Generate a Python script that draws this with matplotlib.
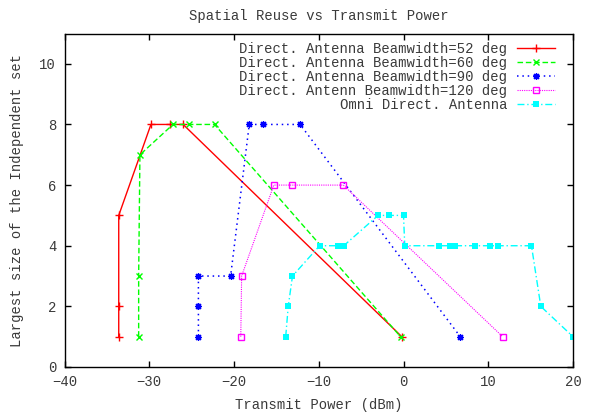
import matplotlib
matplotlib.use("Agg")
import matplotlib.pyplot as plt

# values (gnuplot style)
bw52_x = [-33.6, -33.6, -33.6, -29.8, -27.5, -26.0, -0.2]
bw52_y = [1, 2, 5, 8, 8, 8, 1]

bw60_x = [-31.25, -31.25, -31.1, -27.2, -25.3, -22.3, -0.35]
bw60_y = [1, 3, 7, 8, 8, 8, 1]

bw90_x = [-24.2, -24.2, -24.2, -20.4, -18.2, -16.6, -12.2, 6.7]
bw90_y = [1, 2, 3, 3, 8, 8, 8, 1]

bw120_x = [-19.2, -19.1, -15.3, -13.2, -7.1, 11.7]
bw120_y = [1, 3, 6, 6, 6, 1]

omni_x = [-13.9, -13.6, -13.1, -9.9, -7.75, -7.05, -3.0, -1.7, 0.0, 0.15,
          4.2, 5.5, 6.1, 8.4, 10.2, 11.2, 15.1, 16.2, 20.0]
omni_y = [1, 2, 3, 4, 4, 4, 5, 5, 5, 4, 4, 4, 4, 4, 4, 4, 4, 2, 1]

labels = [
    "Direct. Antenna Beamwidth=52 deg",
    "Direct. Antenna Beamwidth=60 deg",
    "Direct. Antenna Beamwidth=90 deg",
    "Direct. Antenn Beamwidth=120 deg",
    "Omni Direct. Antenna",
]

text_col = '#3a3a3a'
plt.rcParams['font.family'] = ['Liberation Mono', 'DejaVu Sans Mono']
plt.rcParams['font.size'] = 10
plt.rcParams['text.color'] = text_col
plt.rcParams['axes.labelcolor'] = text_col
plt.rcParams['xtick.labelcolor'] = text_col
plt.rcParams['ytick.labelcolor'] = text_col

fig = plt.figure(figsize=(5.95, 4.12), dpi=100)
ax = fig.add_axes([64.5 / 595, 1 - 367 / 412, 508.5 / 595, 333.5 / 412])

ax.plot(bw52_x, bw52_y, color='#ff0000', lw=1, ls='-', marker='+',
        ms=6, mew=1, label=labels[0])
ax.plot(bw60_x, bw60_y, color='#00ff00', lw=1, ls=(0, (4, 2)), marker='x',
        ms=5, mew=1, label=labels[1])
ax.plot(bw90_x, bw90_y, color='#0000ff', lw=1.1, ls=(0, (1, 2.5)), marker=(8, 2, 0),
        ms=5, mew=0.9, label=labels[2])
ax.plot(bw120_x, bw120_y, color='#ff00ff', lw=0.8, ls=(0, (1, 1)), marker='s',
        ms=4.5, mew=1, mfc='none', label=labels[3])
ax.plot(omni_x, omni_y, color='#00ffff', lw=1, ls=(0, (5, 2, 1, 2)), marker='s',
        ms=5, mew=0, label=labels[4])

ax.set_xlim(-40, 20)
ax.set_ylim(0, 11)
ax.set_xticks(range(-40, 21, 10))
ax.set_yticks(range(0, 11, 2))
ax.tick_params(direction='in', top=True, right=True, length=4.5, width=1,
               labelsize=10, pad=6)
for s in ax.spines.values():
    s.set_linewidth(1)

ax.set_title("Spatial Reuse vs Transmit Power", fontsize=10, pad=10)
ax.set_xlabel("Transmit Power (dBm)", fontsize=10, labelpad=6)
ax.set_ylabel("Largest size of the Independent set", fontsize=10, labelpad=11)

ax.legend(loc='upper right', bbox_to_anchor=(0.9646, 0.975), frameon=False,
          markerfirst=False, borderpad=0, borderaxespad=0, labelspacing=0.0,
          handlelength=2.75, handletextpad=0.7, fontsize=10)

fig.savefig("out.png", dpi=100)
